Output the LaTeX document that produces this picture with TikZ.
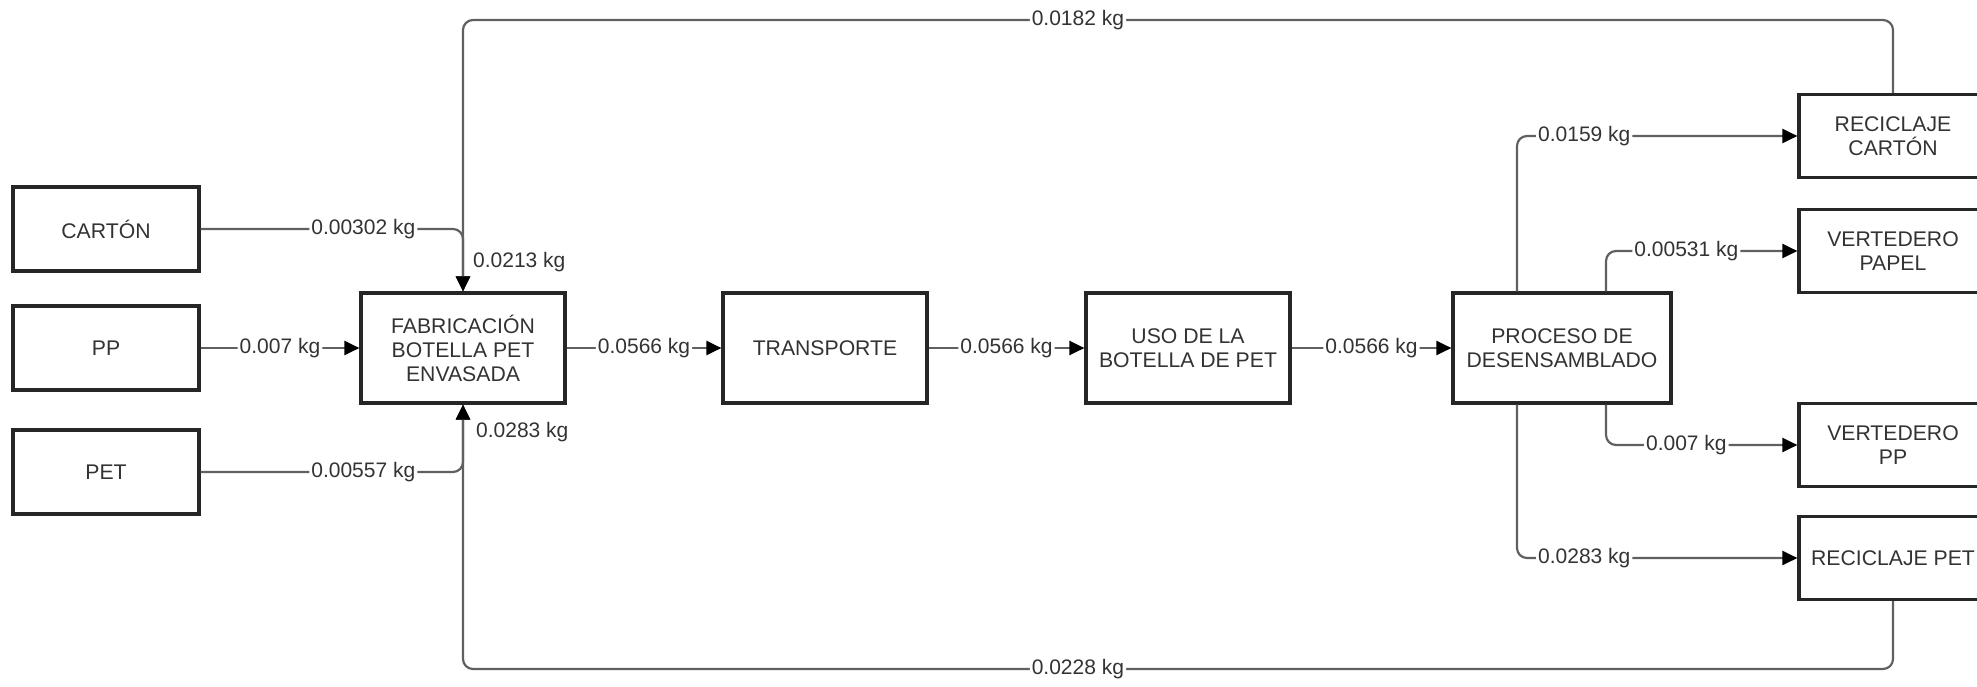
\documentclass[tikz,border=0pt]{standalone}
\usepackage{fontspec}
\setmainfont{Liberation Sans}
\usetikzlibrary{arrows.meta}
\definecolor{linegray}{HTML}{606060}
\definecolor{textgray}{HTML}{333333}
\begin{document}
\begin{tikzpicture}[x=1pt, y=-1pt,
    box/.style={draw=black!85, line width=3.2pt, fill=white, text=textgray, align=center, inner sep=0pt, font=\fontsize{21.2}{24}\selectfont},
    rawbox/.style={box, minimum width=186pt, minimum height=84pt},
    procbox/.style={box, minimum width=204pt, minimum height=110pt},
    endbox/.style={box, minimum width=188pt, minimum height=83pt},
    flow/.style={draw=linegray, line width=2.2pt, rounded corners=10pt, -{Triangle[length=15pt, width=14pt, color=black]}},
    lbl/.style={fill=white, text=textgray, inner xsep=2pt, inner ysep=1pt, font=\fontsize{21}{24}\selectfont}]
    \clip (0,0) rectangle (1977,686);
    \node[rawbox] (carton) at (106,229) {CARTÓN};
    \node[rawbox] (pp) at (106,348) {PP};
    \node[rawbox] (pet) at (106,472) {PET};
    \node[procbox] (fab) at (463,348) {FABRICACIÓN\\BOTELLA PET\\ENVASADA};
    \node[procbox] (trans) at (825,348) {TRANSPORTE};
    \node[procbox] (uso) at (1188,348) {USO DE LA\\BOTELLA DE PET};
    \node[procbox, minimum width=218pt] (proc) at (1562,348) {PROCESO DE\\DESENSAMBLADO};
    \node[endbox] (reccart) at (1893,136) {RECICLAJE\\CARTÓN};
    \node[endbox] (vertpap) at (1893,251) {VERTEDERO\\PAPEL};
    \node[endbox] (vertpp) at (1893,445) {VERTEDERO\\PP};
    \node[endbox] (recpet) at (1893,558) {RECICLAJE PET};
    \coordinate (topright) at (1893,20);
    \coordinate (topleft) at (463,20);
    \coordinate (botright) at (1893,669);
    \coordinate (botleft) at (463,669);
    \draw[flow] (reccart) -- (topright) -- node[lbl, pos=0.57] {0.0182 kg} (topleft) -- (fab);
    \draw[flow] (recpet) -- (botright) -- node[lbl, pos=0.57] {0.0228 kg} (botleft) -- (fab);
    \draw[flow] (carton) -- node[lbl, pos=0.62] {0.00302 kg} (carton -| fab) -- (fab);
    \draw[flow] (pet) -- node[lbl, pos=0.62] {0.00557 kg} (pet -| fab) -- (fab);
    \draw[flow] (pp) -- node[lbl] {0.007 kg} (fab);
    \draw[flow] (fab) -- node[lbl] {0.0566 kg} (trans);
    \draw[flow] (trans) -- node[lbl] {0.0566 kg} (uso);
    \draw[flow] (uso) -- node[lbl] {0.0566 kg} (proc);
    \node[lbl, anchor=west, fill=none] (totaltop) at (471,262) {0.0213 kg};
    \node[lbl, anchor=west, fill=none] (totalbot) at (474,432) {0.0283 kg};
    \draw[flow] ([xshift=-45pt]proc.north) |- node[lbl, pos=0.62] {0.0159 kg} (reccart);
    \draw[flow] ([xshift=44pt]proc.north) |- node[lbl, pos=0.71] {0.00531 kg} (vertpap);
    \draw[flow] ([xshift=44pt]proc.south) |- node[lbl, pos=0.71] {0.007 kg} (vertpp);
    \draw[flow] ([xshift=-45pt]proc.south) |- node[lbl, pos=0.62] {0.0283 kg} (recpet);
\end{tikzpicture}
\end{document}
